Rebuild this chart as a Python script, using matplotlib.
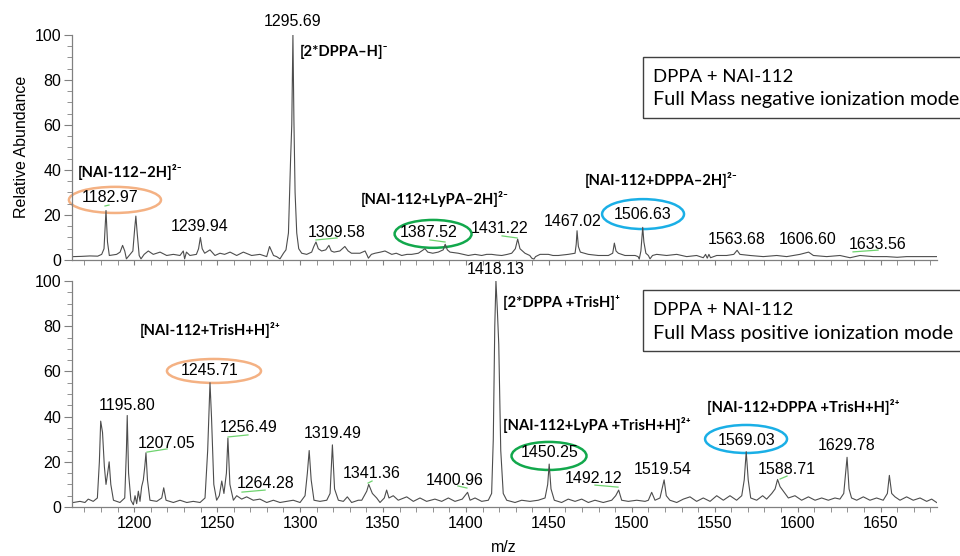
import numpy as np
import matplotlib.pyplot as plt
from matplotlib.patches import Ellipse, Rectangle
from matplotlib.ticker import MultipleLocator

plt.rcParams['font.family'] = ['Liberation Sans', 'DejaVu Sans']

# spectra: (m/z, relative abundance)
neg_trace = [
    (1163.3, 1.5), (1168, 1.6), (1173.4, 1.8), (1178, 1.7), (1180.4, 2.5), (1181.8, 5),
    (1183.0, 22), (1183.9, 8), (1185.0, 2), (1189.4, 2.5), (1191.5, 3.5), (1193.0, 6.5),
    (1194.3, 4), (1195.3, 0.5), (1197.0, 2), (1199.2, 4), (1200.3, 14), (1201.0, 19.5),
    (1201.8, 12), (1203.0, 2), (1204.1, 0.5), (1206.0, 2.5), (1208.5, 4), (1211.5, 2.5),
    (1215.6, 3.5), (1219.6, 2), (1223.6, 2.5), (1227.6, 2), (1229.6, 4), (1230.4, 0.5),
    (1231.5, 3.5), (1233.6, 2), (1237.5, 2.5), (1238.8, 5), (1239.9, 10), (1241.0, 5),
    (1242.5, 3), (1245.7, 4.5), (1248.7, 2), (1251.7, 3), (1254.5, 2.5), (1257.8, 3.5),
    (1261.8, 2), (1265.8, 3.5), (1270.8, 2), (1275.8, 2.5), (1279.9, 1.5), (1281.6, 6),
    (1282.8, 4), (1284.0, 2), (1285.9, 1.5), (1287.9, 0.5), (1290.0, 3), (1291.5, 4.5),
    (1293.0, 12), (1294.3, 45), (1295.0, 60), (1295.7, 100), (1296.3, 62), (1297.0, 30),
    (1298.0, 12), (1299.2, 5), (1301.0, 3), (1304.0, 2.5), (1307.0, 3.5), (1308.3, 6),
    (1309.6, 8), (1311.0, 5), (1313.0, 4), (1315.5, 4.5), (1317.4, 6.5), (1318.8, 4),
    (1320.5, 3.5), (1324.0, 4), (1327.0, 6), (1329.0, 4), (1331.0, 3), (1336.1, 3),
    (1339.2, 4), (1340.5, 2), (1341.2, 0.8), (1343.0, 2.5), (1345.2, 3), (1348.5, 3.5),
    (1351.2, 4), (1355.3, 2.5), (1358.0, 3), (1361.3, 2), (1364.5, 2.5), (1367.3, 2.5),
    (1371.3, 3), (1375.3, 5), (1377.0, 3.5), (1380.0, 3), (1383.3, 3.5), (1386.3, 4.5),
    (1387.5, 7), (1388.8, 4.5), (1390.4, 3.5), (1395.4, 3), (1398.5, 2.5), (1401.4, 2),
    (1405.5, 2.5), (1409.5, 2), (1412.5, 2.5), (1415.5, 2.5), (1418.5, 2.2), (1421.6, 2),
    (1425.0, 2.5), (1427.6, 3), (1429.8, 5), (1431.2, 9.3), (1432.6, 5), (1435.6, 3),
    (1438.5, 2), (1439.7, 0.8), (1441.0, 0.4), (1442.0, 1.5), (1444.7, 2.5), (1449.7, 2.5),
    (1452.5, 2), (1455.7, 2), (1461.7, 2.5), (1465.8, 3), (1466.5, 7), (1467.0, 13),
    (1467.8, 6), (1469.0, 3.5), (1473.8, 2.5), (1479.8, 2), (1485.9, 2), (1488.5, 3),
    (1489.5, 7.5), (1490.5, 4), (1491.9, 3), (1495.9, 2), (1502.0, 2), (1503.8, 1.5),
    (1504.5, 0.4), (1505.5, 4), (1506.1, 10), (1506.6, 14.5), (1507.3, 8), (1508.5, 3),
    (1510.0, 2), (1511.0, 0.5), (1512.5, 2), (1515.0, 2.5), (1521.0, 2), (1527.1, 2.5),
    (1533.1, 1.5), (1539.1, 2), (1543.1, 1), (1544.5, 2.5), (1545.5, 0.8), (1546.5, 2.5),
    (1547.5, 1), (1551.2, 2), (1557.2, 2), (1561.5, 2.5), (1563.5, 4.3), (1565.2, 2.5),
    (1571.3, 2), (1579.3, 1.5), (1587.4, 2), (1593.4, 1.5), (1601.4, 2.5), (1606.6, 3.5),
    (1609.5, 2), (1617.5, 1.5), (1625.5, 2), (1631.6, 1), (1637.6, 2), (1645.6, 1.5),
    (1653.7, 1.5), (1660.0, 1.2), (1665.7, 1.5), (1675.8, 1.5), (1683.8, 1.5),
]

pos_trace = [
    (1163.3, 2), (1167.3, 2.5), (1170.3, 2), (1172.3, 3.5), (1175.3, 2.5), (1177.8, 4),
    (1179.0, 20), (1179.8, 38), (1180.9, 33), (1182.0, 18), (1183.0, 10), (1184.0, 15),
    (1184.9, 20), (1185.9, 10), (1187.5, 3), (1191.4, 2), (1194.3, 4), (1195.3, 25),
    (1195.8, 40.5), (1196.6, 15), (1198.0, 3), (1199.5, 1), (1200.5, 5), (1201.5, 1.5),
    (1202.5, 7), (1203.5, 2.5), (1204.5, 9), (1205.5, 12), (1206.4, 18), (1207.1, 24),
    (1208.0, 12), (1209.5, 3), (1213.6, 2.5), (1216.6, 4), (1217.8, 8.5), (1219.2, 3),
    (1223.6, 2), (1227.6, 3), (1231.7, 2), (1235.6, 2.5), (1239.7, 2), (1242.7, 4),
    (1244.3, 25), (1245.7, 55), (1246.6, 40), (1248.0, 10), (1249.7, 3), (1251.3, 5),
    (1252.8, 11.5), (1254.1, 6), (1255.6, 15), (1256.5, 30.5), (1257.7, 10), (1259.8, 3),
    (1261.8, 5), (1264.8, 3.5), (1267.8, 4.5), (1271.8, 3), (1275.8, 3.5), (1279.9, 2),
    (1283.9, 3), (1287.9, 2), (1291.9, 2.5), (1295.9, 3), (1300.0, 2), (1303.0, 5),
    (1304.4, 15), (1305.5, 25), (1306.7, 12), (1308.4, 3), (1312.0, 2.5), (1316.1, 3),
    (1318.1, 6), (1319.5, 27.5), (1320.8, 8), (1323.1, 3), (1326.1, 2.5), (1328.5, 4.5),
    (1331.1, 2), (1335.1, 3), (1337.2, 3), (1340.2, 7), (1341.4, 10), (1343.6, 6),
    (1346.2, 4), (1348.2, 2), (1350.8, 4), (1352.2, 7.5), (1353.6, 4), (1356.2, 5),
    (1359.2, 3), (1364.3, 4.5), (1368.3, 2.5), (1372.3, 4), (1376.3, 2.5), (1381.3, 3.5),
    (1385.4, 2.5), (1389.4, 4), (1393.4, 2.5), (1397.8, 3.5), (1401.0, 6.5), (1402.5, 3),
    (1405.5, 4), (1409.5, 2.5), (1413.5, 3), (1415.5, 6), (1416.5, 30), (1417.4, 80),
    (1418.1, 100), (1418.9, 88), (1419.8, 72), (1421.0, 25), (1422.5, 6), (1424.6, 3),
    (1429.6, 2), (1433.6, 3), (1438.6, 2.5), (1443.6, 3), (1447.7, 4), (1449.3, 10),
    (1450.2, 19), (1451.3, 8), (1453.3, 3), (1457.7, 2), (1461.7, 3.5), (1465.8, 2.5),
    (1469.8, 3.5), (1473.8, 2), (1477.8, 3), (1482.8, 2), (1487.9, 3), (1490.3, 5),
    (1492.1, 7.5), (1493.9, 3), (1497.9, 2.5), (1503.0, 3), (1508.0, 2.5), (1510.0, 3),
    (1512.0, 6.5), (1514.0, 3), (1517.0, 4), (1519.5, 12), (1520.8, 5), (1523.0, 3),
    (1527.1, 2), (1531.1, 3.5), (1535.1, 4.5), (1539.1, 2.5), (1543.1, 4), (1547.2, 2.5),
    (1551.2, 5), (1555.2, 3), (1559.2, 5), (1563.2, 3), (1566.3, 5), (1567.8, 12),
    (1569.0, 24.5), (1570.2, 12), (1571.7, 4), (1575.3, 3), (1578.9, 5), (1581.3, 3.5),
    (1584.4, 6), (1586.4, 8), (1587.9, 12.2), (1589.4, 9), (1591.4, 7), (1594.4, 4),
    (1598.4, 5), (1602.4, 3), (1606.5, 4.5), (1610.5, 3), (1614.5, 4), (1618.5, 3),
    (1622.5, 4), (1625.5, 3.5), (1627.8, 6), (1629.8, 22), (1631.0, 8), (1632.5, 4),
    (1635.6, 3), (1639.6, 4.5), (1643.6, 3), (1647.6, 4), (1651.6, 3), (1654.1, 6),
    (1655.3, 14), (1656.7, 6), (1658.7, 4.5), (1661.7, 3), (1665.7, 4.5), (1669.7, 3),
    (1673.8, 4), (1677.8, 2.5), (1680.8, 3.5), (1683.8, 2),
]

neg_peak_labels = ["1295.69", "1182.97", "1239.94", "1309.58", "1387.52", "1431.22",
                   "1467.02", "1506.63", "1563.68", "1606.60", "1633.56"]
pos_peak_labels = ["1418.13", "1245.71", "1195.80", "1207.05", "1256.49", "1264.28",
                   "1319.49", "1341.36", "1400.96", "1450.25", "1492.12", "1519.54",
                   "1569.03", "1588.71", "1629.78"]

neg_ions = ["[2*DPPA\u2013H]\u207b", "[NAI-112\u20132H]\u00b2\u207b",
            "[NAI-112+LyPA\u20132H]\u00b2\u207b", "[NAI-112+DPPA\u20132H]\u00b2\u207b"]
pos_ions = ["[2*DPPA +TrisH]\u207a", "[NAI-112+TrisH+H]\u00b2\u207a",
            "[NAI-112+LyPA +TrisH+H]\u00b2\u207a", "[NAI-112+DPPA +TrisH+H]\u00b2\u207a"]

box_titles = ["DPPA + NAI-112", "DPPA + NAI-112"]
box_modes = ["Full Mass negative ionization mode", "Full Mass positive ionization mode"]

# label layout (data coordinates: m/z, abundance)
neg_label_pos = [(1295.7, 106.2), (1185.4, 27.6), (1239.7, 15.1), (1322.3, 12.4),
                 (1377.7, 12.4), (1420.5, 13.8), (1464.6, 17.3), (1506.8, 20.0),
                 (1563.4, 9.3), (1606.3, 9.3), (1648.5, 6.7)]
pos_label_pos = [(1418.1, 104.9), (1245.7, 60.6), (1195.7, 45.1), (1219.8, 28.3),
                 (1269.2, 35.4), (1279.5, 10.6), (1319.9, 32.7), (1343.4, 15.0),
                 (1393.4, 11.9), (1450.7, 23.9), (1477.2, 12.8), (1518.8, 16.4),
                 (1569.5, 29.6), (1593.6, 16.4), (1629.8, 27.4)]
neg_ion_pos = [(1300.0, 92.4), (1166.1, 39.1), (1336.7, 27.1), (1471.8, 35.6)]
pos_ion_pos = [(1422.4, 90.3), (1203.5, 78.3), (1422.4, 36.3), (1545.4, 44.2)]

# (centre m/z, centre abundance, width, height, colour)
neg_ellipses = [(1188.4, 26.7, 55.5, 11.6, "#F4B183"),
                (1380.2, 11.6, 46.4, 12.4, "#12A84C"),
                (1506.8, 20.4, 49.4, 13.3, "#1AAFE6")]
pos_ellipses = [(1248.1, 60.2, 56.7, 10.6, "#F4B183"),
                (1450.1, 22.6, 45.2, 12.4, "#12A84C"),
                (1568.9, 30.1, 49.4, 12.4, "#1AAFE6")]

# small green underline marks of the acquisition software
neg_marks = [(1182.4, 24.0, 1184.8, 24.4), (1309.6, 8.9, 1322.3, 9.8),
             (1378.3, 8.9, 1387.4, 8.0), (1421.8, 10.7, 1430.8, 9.8),
             (1633.4, 3.6, 1648.5, 4.4)]
pos_marks = [(1207.7, 24.3, 1219.8, 25.7), (1256.6, 31.0, 1268.6, 31.9),
             (1265.0, 6.6, 1278.9, 7.5), (1341.0, 10.6, 1343.4, 11.5),
             (1395.2, 9.3, 1400.6, 8.4), (1477.8, 9.7, 1491.7, 8.8),
             (1589.4, 12.4, 1593.6, 13.7)]

fig = plt.figure(figsize=(9.6, 5.56), dpi=100)
ax_neg = fig.add_axes([0.075, 0.5324, 0.901, 0.4047])
ax_pos = fig.add_axes([0.075, 0.0881, 0.901, 0.4065])

bold_font = dict(family=['Lato', 'DejaVu Sans'], fontweight='bold', fontsize=10.6)


def draw_panel(ax, trace, labels, label_pos, ions, ion_pos, ellipses, marks):
    trace = np.array(trace)
    ax.plot(trace[:, 0], trace[:, 1], color='#4d4d4d', lw=0.8)
    ax.set_xlim(1162.5, 1684)
    ax.set_ylim(0, 100)
    for side in ['top', 'right']:
        ax.spines[side].set_visible(False)
    for side in ['left', 'bottom']:
        ax.spines[side].set_color('#808080')
        ax.spines[side].set_linewidth(0.9)
    ax.xaxis.set_major_locator(MultipleLocator(50))
    ax.xaxis.set_minor_locator(MultipleLocator(10))
    ax.yaxis.set_major_locator(MultipleLocator(20))
    ax.yaxis.set_minor_locator(MultipleLocator(5))
    ax.tick_params(axis='x', which='both', length=3.6, color='#808080',
                   labelsize=11.5, pad=3)
    ax.tick_params(axis='y', which='major', length=5.8, color='#808080',
                   labelsize=11.5, pad=2)
    ax.tick_params(axis='y', which='minor', length=3.6, color='#808080')

    for txt, (x, y) in zip(labels, label_pos):
        ax.text(x, y, txt, ha='center', va='center', fontsize=11.5, clip_on=False)
    for txt, (x, y) in zip(ions, ion_pos):
        ax.text(x, y, txt, ha='left', va='center', clip_on=False, **bold_font)
    for cx, cy, w, h, col in ellipses:
        ax.add_patch(Ellipse((cx, cy), w, h, fill=False, edgecolor=col, lw=1.8,
                             clip_on=False))
    for x1, y1, x2, y2 in marks:
        ax.plot([x1, x2], [y1, y2], color='#6fd36f', lw=0.9)


draw_panel(ax_neg, neg_trace, neg_peak_labels, neg_label_pos, neg_ions, neg_ion_pos,
           neg_ellipses, neg_marks)
draw_panel(ax_pos, pos_trace, pos_peak_labels, pos_label_pos, pos_ions, pos_ion_pos,
           pos_ellipses, pos_marks)
ax_neg.tick_params(axis='x', labelbottom=False)

# info boxes (partly cut by the right edge, as in the original)
for top_px, title, mode in [(57, box_titles[0], box_modes[0]),
                            (290, box_titles[1], box_modes[1])]:
    y0 = 1 - (top_px + 61) / 556
    fig.patches.append(Rectangle((643 / 960, y0), 0.4, 61 / 556, transform=fig.transFigure,
                                 fill=False, edgecolor='#404040', lw=1.0))
    fig.text(653 / 960, 1 - (top_px + 20) / 556, title, ha='left', va='center',
             family=['Lato', 'DejaVu Sans'], fontsize=13.3)
    fig.text(653 / 960, 1 - (top_px + 43) / 556, mode, ha='left', va='center',
             family=['Lato', 'DejaVu Sans'], fontsize=14.3)

fig.text(22 / 960, 1 - 147 / 556, "Relative Abundance", rotation=90, ha='center',
         va='center', fontsize=11.5)
fig.text(504 / 960, 1 - 548 / 556, "m/z", ha='center', va='center', fontsize=11.5)

fig.savefig("out.png", dpi=100)
